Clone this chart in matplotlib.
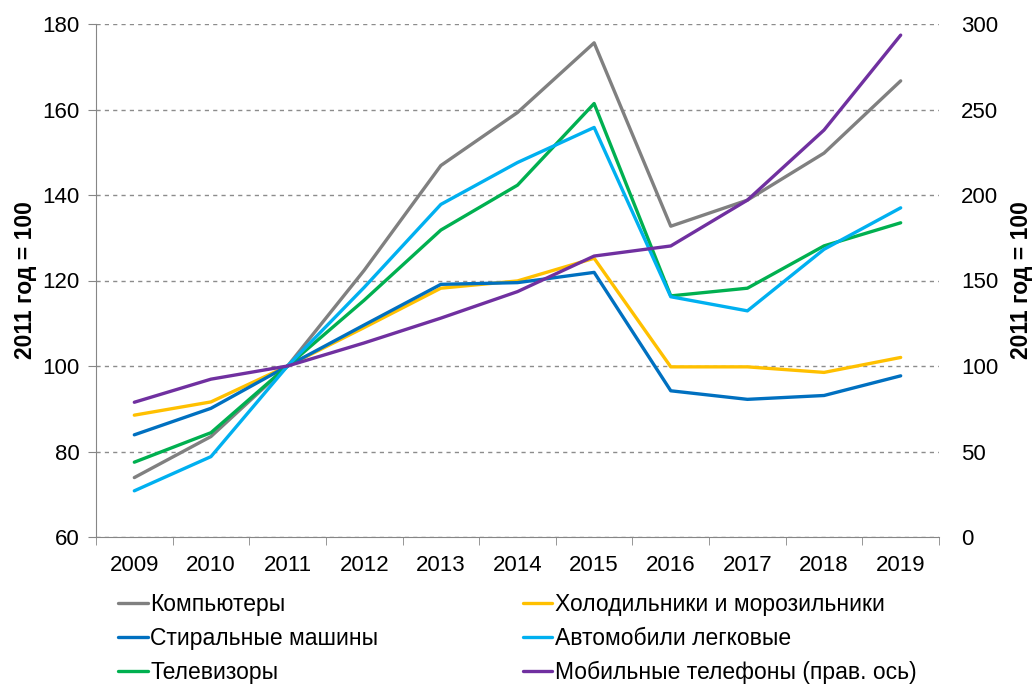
import matplotlib
matplotlib.use("Agg")
import matplotlib.pyplot as plt
import numpy as np

plt.rcParams['font.family'] = ['Liberation Sans', 'DejaVu Sans']

years = ['2009', '2010', '2011', '2012', '2013', '2014', '2015', '2016', '2017', '2018', '2019']

computers = [73.9, 83.5, 100, 122.4, 146.9, 159.3, 175.6, 132.7, 138.8, 149.8, 166.7]
fridges = [88.5, 91.6, 100, 109.0, 118.2, 119.9, 125.2, 99.8, 99.8, 98.5, 102.0]
washers = [83.9, 90.1, 100, 109.6, 119.1, 119.5, 121.9, 94.2, 92.2, 93.1, 97.7]
cars = [70.8, 78.8, 100, 118.4, 137.8, 147.6, 155.8, 116.2, 112.9, 127.3, 137.0]
tvs = [77.5, 84.4, 100, 115.4, 131.8, 142.3, 161.4, 116.4, 118.2, 128.1, 133.5]
phones = [78.8, 92.3, 100, 113.5, 128.0, 143.5, 164.3, 170.2, 197.0, 238.0, 293.5]  # right axis

fig = plt.figure(figsize=(10.32, 6.86), dpi=100)
ax = fig.add_axes([96 / 1032, 1 - 537 / 686, (939 - 96) / 1032, (537 - 24) / 686])
ax2 = ax.twinx()

x = np.arange(len(years))
lw = 2.4

l_comp, = ax.plot(x, computers, color='#808080', lw=lw, label='Компьютеры', solid_capstyle='round')
l_wash, = ax.plot(x, washers, color='#0070C0', lw=lw, label='Стиральные машины', solid_capstyle='round')
l_tv, = ax.plot(x, tvs, color='#00B050', lw=lw, label='Телевизоры', solid_capstyle='round')
l_fr, = ax.plot(x, fridges, color='#FFC000', lw=lw, label='Холодильники и морозильники', solid_capstyle='round')
l_car, = ax.plot(x, cars, color='#00B0F0', lw=lw, label='Автомобили легковые', solid_capstyle='round')
l_ph, = ax2.plot(x, phones, color='#7030A0', lw=lw, label='Мобильные телефоны (прав. ось)', solid_capstyle='round')

# fridges line sits under the washers line like in the source
l_fr.set_zorder(1.9)

ax.set_xlim(-0.5, len(years) - 0.5)
ax.set_ylim(60, 180)
ax.set_yticks(np.arange(60, 181, 20))
ax2.set_ylim(0, 300)
ax2.set_yticks(np.arange(0, 301, 50))

ax.set_xticks(x)
ax.set_xticklabels(years)
ax.set_xticks(np.arange(-0.5, len(years), 1), minor=True)
ax.tick_params(axis='x', which='major', length=0, pad=13, labelsize=16)
ax.tick_params(axis='x', which='minor', length=6, color='#868686', direction='out')
ax.tick_params(axis='y', length=6, color='#868686', direction='out', labelsize=16, pad=6)
ax2.tick_params(axis='y', length=0, labelsize=16, pad=16)

ax.yaxis.grid(True, linestyle=(0, (3, 3)), color='#8c8c8c', lw=1)
ax.set_axisbelow(True)

for s in ['top', 'right']:
    ax.spines[s].set_visible(False)
for s in ['top', 'right', 'left', 'bottom']:
    ax2.spines[s].set_visible(False)
ax.spines['left'].set_color('#868686')
ax.spines['bottom'].set_color('#868686')

ax.set_ylabel('2011 год = 100', fontsize=16.5, fontweight='bold', labelpad=4)
ax2.set_ylabel('2011 год = 100', fontsize=16.5, fontweight='bold', rotation=90, labelpad=8)

handles = [l_comp, l_wash, l_tv, l_fr, l_car, l_ph]
fig.legend(handles, [h.get_label() for h in handles], ncol=2,
           loc='upper left', bbox_to_anchor=(118 / 1032, 1 - 593 / 686),
           frameon=False, fontsize=16.5, handlelength=1.3, handletextpad=0.1,
           columnspacing=6.3, labelspacing=0.48, borderpad=0, borderaxespad=0)

fig.savefig('out.png', dpi=100)
